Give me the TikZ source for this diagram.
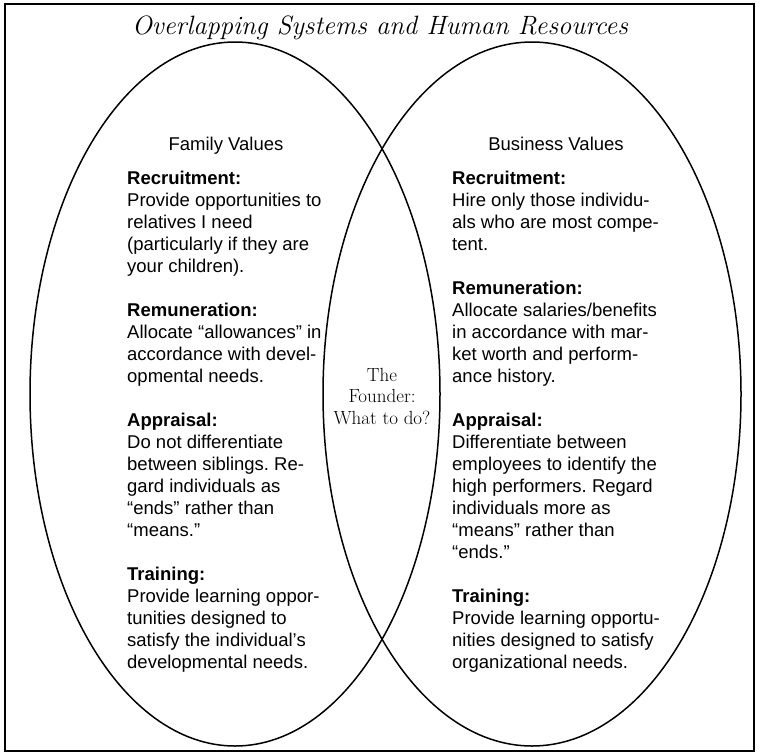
\documentclass[tikz,border=0pt]{standalone}
\usepackage{fontspec}
\usetikzlibrary{shapes.geometric}
\newfontfamily\bodyfont{Liberation Sans}
\frenchspacing
\begin{document}
\begin{tikzpicture}[x=1pt,y=-1pt,
  frame/.style={line width=1.5pt},
  valueset/.style={draw, ellipse, line width=1.5pt, inner sep=0pt},
  column/.style={anchor=base west, inner sep=0pt,
    font=\bodyfont\fontsize{18.5}{22}\selectfont},
  heading/.style={anchor=base, inner sep=0pt,
    font=\bodyfont\fontsize{18.5}{22}\selectfont},
  founder/.style={anchor=base, inner sep=0pt,
    font=\fontsize{19}{21.5}\selectfont},
  titletext/.style={anchor=base, inner sep=0pt,
    font=\itshape\fontsize{26.5}{30}\selectfont},
]
\useasboundingbox (0,0) rectangle (760,755);
\draw[frame] (5,4) rectangle (754,751);

% the two overlapping value systems
\node[valueset, minimum width=410pt, minimum height=704pt] (family) at (235,394) {};
\node[valueset, minimum width=418pt, minimum height=704pt] (business) at (532,394) {};

\node[titletext] (title) at (380,34) {Overlapping Systems and Human Resources};

\node[heading] (famhead) at (226,150) {Family Values};
\node[heading] (bushead) at (556,150) {Business Values};

\node[column] (famtext) at (127,184) {\begin{tabular}[t]{@{}l@{}}
\textbf{Recruitment:}\\
Provide opportunities to\\
relatives I need\\
(particularly if they are\\
your children).\\
\\
\textbf{Remuneration:}\\
Allocate “allowances” in\\
accordance with devel-\\
opmental needs.\\
\\
\textbf{Appraisal:}\\
Do not differentiate\\
between siblings. Re-\\
gard individuals as\\
“ends” rather than\\
“means.”\\
\\
\textbf{Training:}\\
Provide learning oppor-\\
tunities designed to\\
satisfy the individual’s\\
developmental needs.
\end{tabular}};

\node[column] (bustext) at (452,184) {\begin{tabular}[t]{@{}l@{}}
\textbf{Recruitment:}\\
Hire only those individu-\\
als who are most compe-\\
tent.\\
\\
\textbf{Remuneration:}\\
Allocate salaries/benefits\\
in accordance with mar-\\
ket worth and perform-\\
ance history.\\
\\
\textbf{Appraisal:}\\
Differentiate between\\
employees to identify the\\
high performers. Regard\\
individuals more as\\
“means” rather than\\
“ends.”\\
\\
\textbf{Training:}\\
Provide learning opportu-\\
nities designed to satisfy\\
organizational needs.
\end{tabular}};

\node[founder] (founder) at (382,381) {\begin{tabular}[t]{@{}c@{}}
The\\
Founder:\\
What to do?
\end{tabular}};
\end{tikzpicture}
\end{document}
